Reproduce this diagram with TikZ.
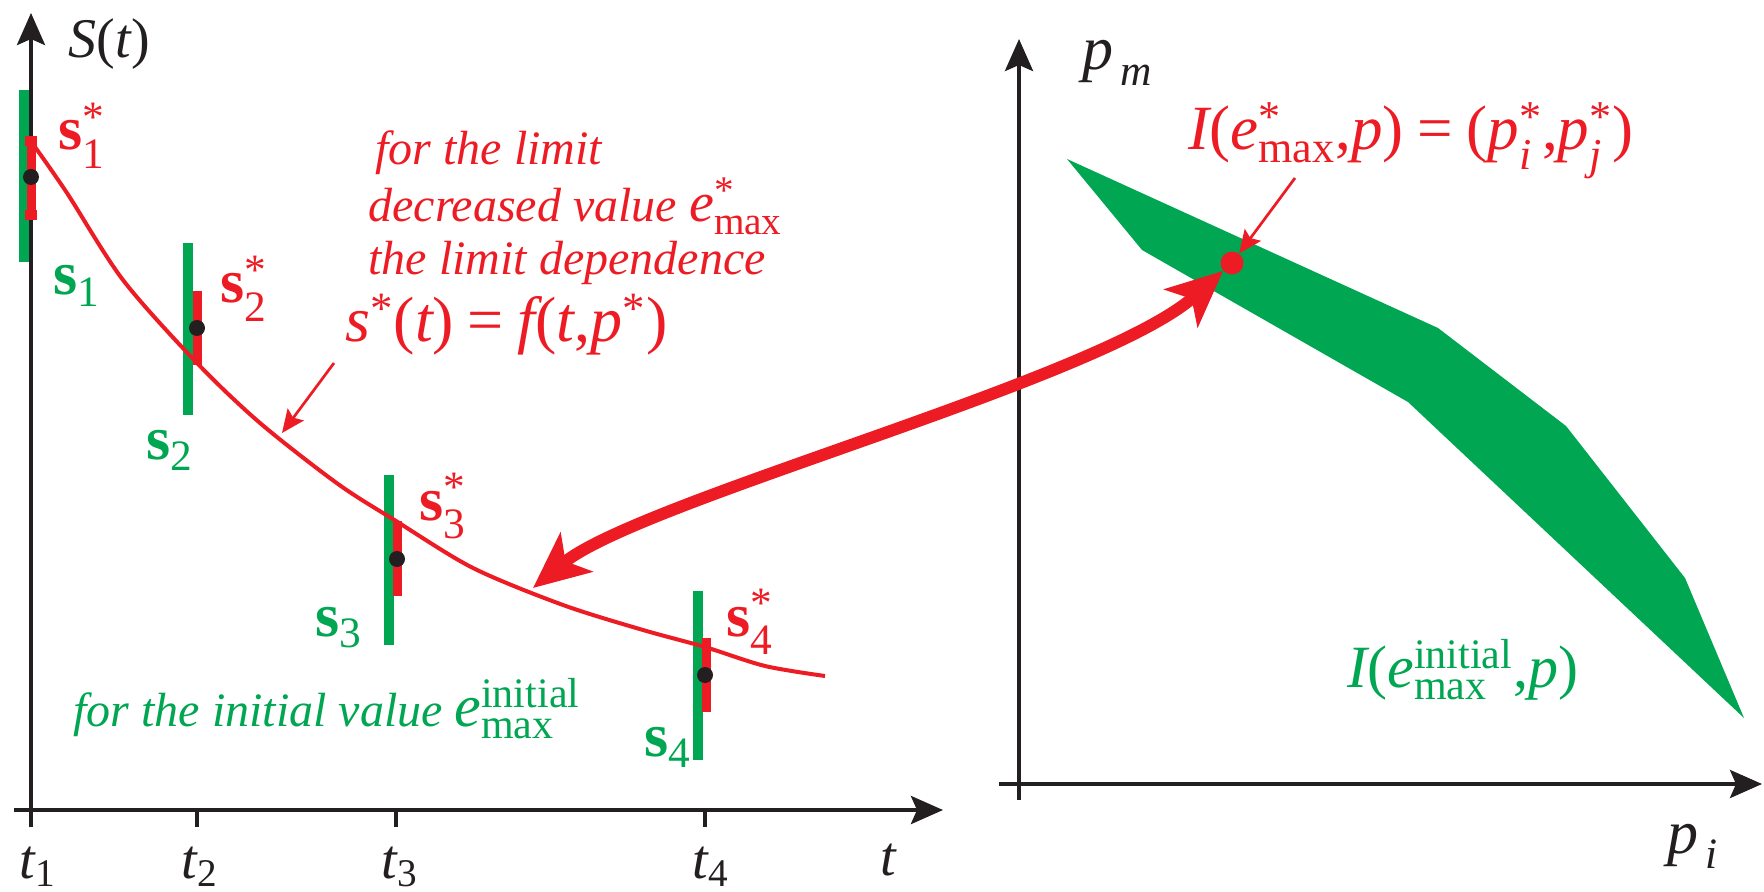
\documentclass[tikz,border=0pt]{standalone}
\usepackage{amsmath}
\usepackage{fontspec}
\setmainfont{Liberation Serif}[ItalicFont={Liberation Serif Italic},BoldFont={Liberation Serif Bold},BoldItalicFont={Liberation Serif Bold Italic}]
\usetikzlibrary{arrows.meta}
\definecolor{myred}{HTML}{ED1C24}
\definecolor{mygreen}{HTML}{00A651}
\definecolor{myblack}{HTML}{231F20}
\newcommand{\fsz}[1]{\fontsize{#1}{#1}\selectfont}
\newcommand{\mi}[1]{\text{\itshape #1}}
\newcommand{\mt}[1]{\text{\upshape\mdseries #1}}
\newcommand{\mb}[1]{\text{\bfseries\upshape #1}}
\tikzset{
  axis/.style={line width=2pt, draw=myblack, -{Stealth[length=16pt,width=14pt,inset=3pt]}},
  tickmark/.style={line width=2pt, draw=myblack},
  gbar/.style={line width=5pt, draw=mygreen},
  rbar/.style={line width=4.5pt, draw=myred},
  bdot/.style={circle, fill=myblack, inner sep=0pt, minimum size=8pt},
  rdotst/.style={circle, fill=myred, inner sep=0pt, minimum size=11.5pt},
  lbl/.style={inner sep=0pt, anchor=base west},
  tl/.style={inner sep=0pt, anchor=base, text=myblack},
  thinarr/.style={draw=myred, line width=1.35pt, -{Stealth[length=11.5pt,width=10pt,inset=2pt]}},
  thickarr/.style={draw=myred, line width=6pt, {Stealth[length=28pt,width=25pt,inset=7pt]}-{Stealth[length=28pt,width=25pt,inset=7pt]}},
  curve/.style={draw=myred, line width=2pt}
}
\begin{document}
\begin{tikzpicture}[x=0.5pt,y=-0.5pt]
\useasboundingbox (0,0) rectangle (1764,892);
% green region
\fill[mygreen] (1067,159) -- (1438,328) -- (1566,426) -- (1685,578) -- (1744,718) -- (1408,402) -- (1142,250) -- cycle;
% axes left
\draw[axis] (31,827) -- (31,13);
\draw[axis] (14,810) -- (943,810);
\draw[tickmark] (197,810) -- (197,827);
\draw[tickmark] (396,810) -- (396,827);
\draw[tickmark] (705,810) -- (705,827);
% axes right
\draw[axis] (1019,800) -- (1019,39);
\draw[axis] (999,784) -- (1762,784);
% bars
\draw[gbar] (23.5,90) -- (23.5,262);
\draw[gbar] (188,243) -- (188,415);
\draw[gbar] (389,475) -- (389,645);
\draw[gbar] (698,591) -- (698,760);
\draw[rbar] (31,136) -- (31,220);
\fill[myred] (25,136) rectangle (37,146);
\fill[myred] (25,210) rectangle (37,220);
\draw[rbar] (197,291) -- (197,365);
\draw[rbar] (397,521) -- (397,596);
\draw[rbar] (706,638) -- (706,712);
% curve
\draw[curve] plot[smooth, tension=0.5] coordinates {(35,147) (67,193) (123,280) (197,363) (260,423) (338,484) (396,521) (473,568) (563,605) (643,630) (705,647) (765,666) (825,676)};
% dots
\node[bdot] (d1) at (31,177) {};
\node[bdot] (d2) at (197,328) {};
\node[bdot] (d3) at (397,559) {};
\node[bdot] (d4) at (705,675) {};
\node[rdotst] (rdot) at (1232,263) {};
% arrows
\coordinate (fa) at (334,363);
\coordinate (fb) at (282,433);
\draw[thinarr] (fa) -- (fb);
\coordinate (ia) at (1295,178);
\draw[thinarr] (ia) -- (rdot);
\coordinate (cp) at (533,588);
\draw[thickarr] (cp) .. controls (640,500) and (1100,380) .. (rdot);
% axis labels
\node[lbl, text=myblack] (St) at (68,58) {\fsz{28}\textit{S}(\textit{t})};
\node[tl] (t1) at (38,878) {\fsz{28}$\mi{t}_{\mt{1}}$};
\node[tl] (t2) at (200,878) {\fsz{28}$\mi{t}_{\mt{2}}$};
\node[tl] (t3) at (400,878) {\fsz{28}$\mi{t}_{\mt{3}}$};
\node[tl] (t4) at (711,878) {\fsz{28}$\mi{t}_{\mt{4}}$};
\node[tl] (tt) at (889,875) {\fsz{28}\textit{t}};
\node[lbl, text=myblack] (pm) at (1082,70) {\fsz{31}$\mi{p}_{\,\mi{m}}$};
\node[lbl, text=myblack] (pi) at (1667,853) {\fsz{31}$\mi{p}_{\,\mi{i}}$};
% s labels
\node[lbl, text=myred] (s1s) at (58,150) {\fsz{31}$\mb{s}^{\mt{*}}_{\mt{1}}$};
\node[lbl, text=mygreen] (s1) at (53,295) {\fsz{31}$\mb{s}_{\mt{1}}$};
\node[lbl, text=myred] (s2s) at (220,303) {\fsz{31}$\mb{s}^{\mt{*}}_{\mt{2}}$};
\node[lbl, text=mygreen] (s2) at (146,459) {\fsz{31}$\mb{s}_{\mt{2}}$};
\node[lbl, text=myred] (s3s) at (419,520) {\fsz{31}$\mb{s}^{\mt{*}}_{\mt{3}}$};
\node[lbl, text=mygreen] (s3) at (315,636) {\fsz{31}$\mb{s}_{\mt{3}}$};
\node[lbl, text=myred] (s4s) at (726,636) {\fsz{31}$\mb{s}^{\mt{*}}_{\mt{4}}$};
\node[lbl, text=mygreen] (s4) at (644,756) {\fsz{31}$\mb{s}_{\mt{4}}$};
% red texts
\node[lbl, text=myred] (r1) at (375,165) {\fsz{24}\itshape for the limit};
\node[lbl, text=myred] (r2) at (368,222) {\fsz{24}\itshape decreased value {\fsz{28}$\mi{e}^{\mt{*}}_{\mt{max}}$}};
\node[lbl, text=myred] (r3) at (368,275) {\fsz{24}\itshape the limit dependence};
\node[lbl, text=myred] (r4) at (345,342) {\fsz{32}$\mi{s}^{\mt{*}}\mt{(}\mi{t}\mt{)}\mathrel{\mt{=}}\mi{f}\mt{(}\mi{t}\mt{,}\mi{p}^{\mt{*}}\mt{)}$};
% green text
\node[lbl, text=mygreen] (g1) at (73,726) {\fsz{24}\itshape for the initial value {\fsz{30}$\mi{e}^{\mt{initial}}_{\mt{max}}$}};
% right formulas
\node[lbl, text=myred] (fr) at (1188,150) {\fsz{31.5}$\mi{I}\mt{(}\mi{e}^{\mt{*}}_{\mt{max}}\mt{,}\mi{p}\mt{)}\mathrel{\mt{=}}\mt{(}\mi{p}^{\mt{*}}_{\mi{i}}\mt{,}\mi{p}^{\mt{*}}_{\mi{j}}\mt{)}$};
\node[lbl, text=mygreen] (fg) at (1347,687) {\fsz{30}$\mi{I}\mt{(}\mi{e}^{\mt{initial}}_{\mt{max}}\mt{,}\mi{p}\mt{)}$};
\end{tikzpicture}
\end{document}
